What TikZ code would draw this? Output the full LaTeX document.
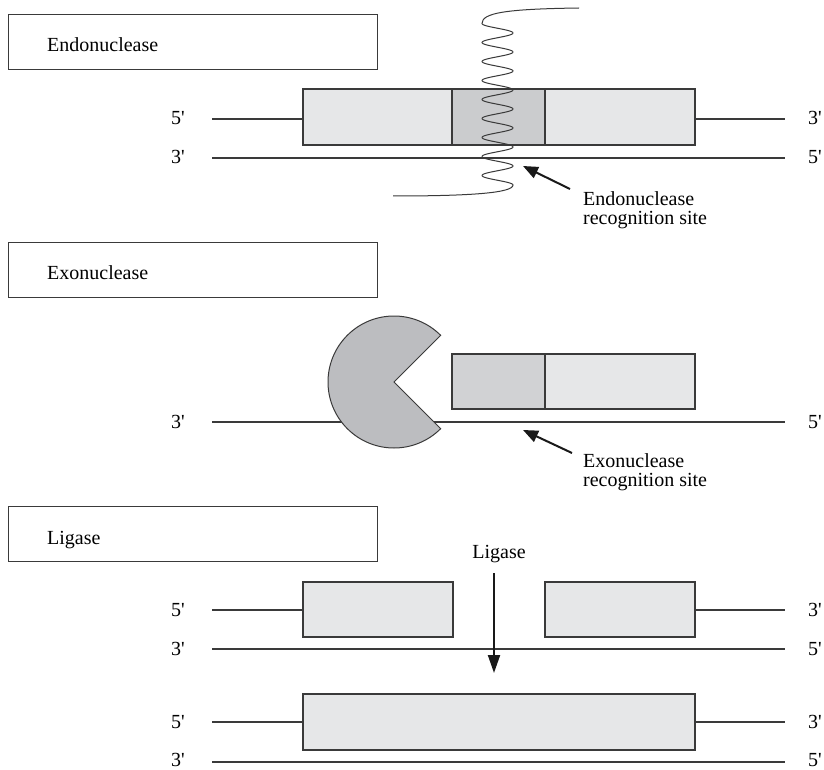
\documentclass[tikz,border=0pt]{standalone}
\usepackage{fontspec}
\setmainfont{Liberation Serif}
\usetikzlibrary{arrows.meta}
\definecolor{strandgray}{HTML}{3A3A3A}
\definecolor{boxlight}{HTML}{E6E7E8}
\definecolor{boxdark}{HTML}{D1D2D4}
\definecolor{sitegray}{HTML}{CBCCCE}
\definecolor{enzyme}{HTML}{BCBDC0}
\newcommand{\pr}{\textquotesingle}
\begin{document}
\begin{tikzpicture}[x=1pt,y=-1pt,
  strand/.style={draw=strandgray, line width=1.2pt},
  segment/.style={draw=strandgray, line width=1.2pt, fill=boxlight},
  titlebox/.style={draw=strandgray, line width=1.2pt, minimum width=369pt,
    minimum height=55pt, anchor=north west, inner sep=0pt},
  lbl/.style={font=\fontsize{20}{20}\selectfont, inner sep=0pt},
  endl/.style={lbl, anchor=base east},
  endr/.style={lbl, anchor=base west},
  pointer/.style={draw=black!90, line width=2pt,
    -{Triangle[length=15pt,width=12pt]}},
]
\useasboundingbox (0,0) rectangle (824,770);

% ---------- Endonuclease ----------
\node[titlebox] (endobox) at (8,14) {};
\node[lbl, anchor=base west] (endotitle) at (47,52) {Endonuclease};

\draw[strand] (212,119) -- (303,119) (695,119) -- (785,119);
\draw[strand] (212,158) -- (785,158);
\draw[segment] (303,89) rectangle (452,145);
\draw[segment, fill=sitegray] (452,89) rectangle (545,145);
\draw[segment] (545,89) rectangle (695,145);
\node[endl] (e5l) at (185,125) {5\pr};
\node[endl] (e3l) at (185,164) {3\pr};
\node[endr] (e3r) at (808,125) {3\pr};
\node[endr] (e5r) at (808,164) {5\pr};

% enzyme coil threading the duplex (period 19, amplitude 15.5)
\draw[strandgray, line width=1pt]
  (579,8) .. controls (505,9) and (482,13) .. (482,23.5)
  -- plot[domain=23.5:185, samples=400, variable=\t]
     ({497.5-15.5*cos(18.947*(\t-23.5))}, \t)
  .. controls (513,193) and (470,196) .. (393,196);

\node[lbl, anchor=base west] (endolbla) at (583,205) {Endonuclease};
\node[lbl, anchor=base west] (endolblb) at (583,224) {recognition site};
\coordinate (endotail) at (570,189);
\coordinate (endohead) at (523,166);
\draw[pointer] (endotail) -- (endohead);

% ---------- Exonuclease ----------
\node[titlebox] (exobox) at (8,242) {};
\node[lbl, anchor=base west] (exotitle) at (47,279) {Exonuclease};

\draw[strand] (212,422) -- (785,422);
\draw[segment, fill=boxdark] (452,354) rectangle (545,409);
\draw[segment] (545,354) rectangle (695,409);
\draw[strandgray, line width=1pt, fill=enzyme]
  (394,382) -- ++(45:66) arc[start angle=45, end angle=315, radius=66] -- cycle;
\node[endl] (x3l) at (185,428) {3\pr};
\node[endr] (x5r) at (808,428) {5\pr};

\node[lbl, anchor=base west] (exolbla) at (583,467) {Exonuclease};
\node[lbl, anchor=base west] (exolblb) at (583,486) {recognition site};
\coordinate (exotail) at (572,453);
\coordinate (exohead) at (523,430);
\draw[pointer] (exotail) -- (exohead);

% ---------- Ligase ----------
\node[titlebox] (ligbox) at (8,506) {};
\node[lbl, anchor=base west] (ligtitle) at (47,544) {Ligase};

\draw[strand] (212,610) -- (303,610) (695,610) -- (785,610);
\draw[strand] (212,649) -- (785,649);
\draw[segment] (303,582) rectangle (453,637);
\draw[segment] (545,582) rectangle (695,637);
\node[endl] (l5l) at (185,616) {5\pr};
\node[endl] (l3l) at (185,655) {3\pr};
\node[endr] (l3r) at (808,616) {3\pr};
\node[endr] (l5r) at (808,655) {5\pr};

\node[lbl, anchor=base] (ligname) at (499,558) {Ligase};
\coordinate (ligtail) at (494,573);
\coordinate (lighead) at (494,673);
\draw[draw=black!90, line width=2pt, -{Triangle[length=18pt,width=12pt]}]
  (ligtail) -- (lighead);

\draw[strand] (212,722) -- (303,722) (695,722) -- (785,722);
\draw[strand] (212,762) -- (785,762);
\draw[segment] (303,694) rectangle (695,750);
\node[endl] (j5l) at (185,728) {5\pr};
\node[endl] (j3l) at (185,766) {3\pr};
\node[endr] (j3r) at (808,728) {3\pr};
\node[endr] (j5r) at (808,766) {5\pr};
\end{tikzpicture}
\end{document}
